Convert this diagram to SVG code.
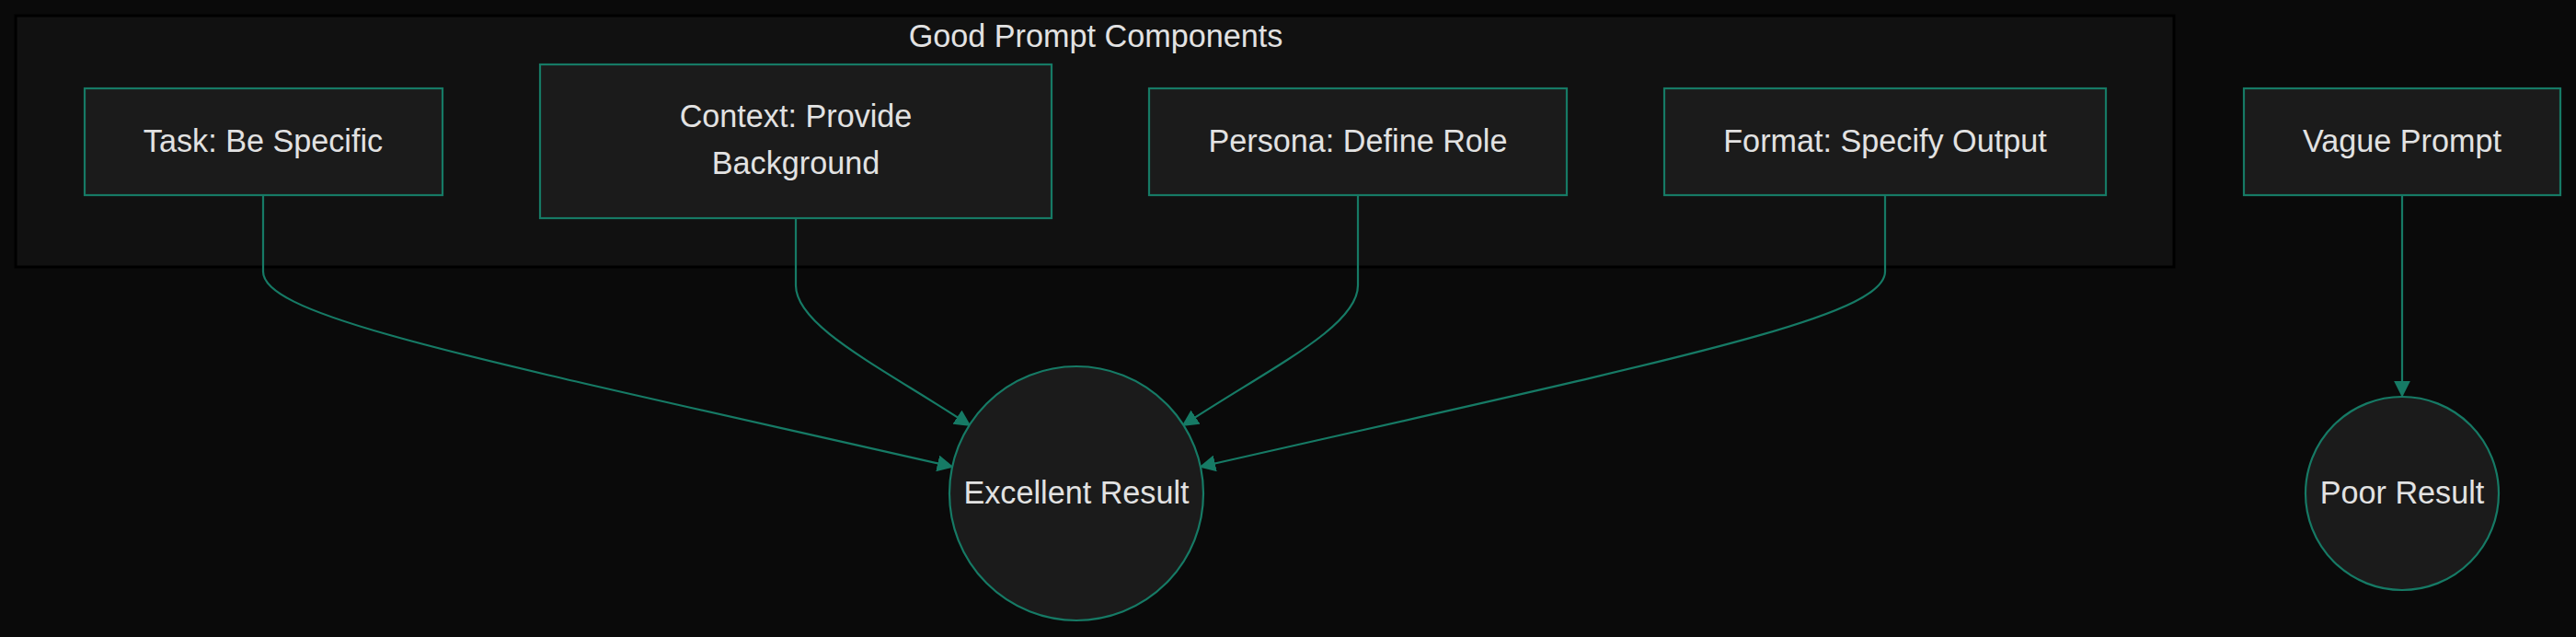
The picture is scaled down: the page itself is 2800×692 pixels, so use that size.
<svg xmlns="http://www.w3.org/2000/svg" width="2800" height="692" viewBox="0 0 2800 692">
<style>
.bg{fill:#0a0a0a}
.cluster{fill:#111111;stroke:#000000;stroke-width:3}
.node{fill:#1b1b1b;stroke:#167a65;stroke-width:2.2}
.lbl{font-family:"Liberation Sans",Arial,sans-serif;font-size:34.2px;fill:#e2e2e2;text-anchor:middle}
.edge{fill:none;stroke:#167a65;stroke-width:2.2}
</style>
<defs>
<marker id="arrow" viewBox="0 0 10 10" refX="9" refY="5" markerUnits="userSpaceOnUse" markerWidth="18" markerHeight="18" orient="auto">
<path d="M0,0 L10,5 L0,10 z" fill="#167a65"/>
</marker>
</defs>
<rect class="bg" x="0" y="0" width="2800" height="692"/>
<g id="cluster-good">
<rect class="cluster" x="17" y="17" width="2346" height="273"/>
<text class="lbl" x="1191" y="51">Good Prompt Components</text>
</g>
<g id="connectors">
<path class="edge" d="M286,212 L286,295 C286,345 520,390 1035,507" marker-end="url(#arrow)"/>
<path class="edge" d="M865,237 L865,310 C865,355 960,400 1054,462" marker-end="url(#arrow)"/>
<path class="edge" d="M1476,212 L1476,310 C1476,355 1380,400 1286,462" marker-end="url(#arrow)"/>
<path class="edge" d="M2049,212 L2049,295 C2049,345 1820,390 1305,507" marker-end="url(#arrow)"/>
<path class="edge" d="M2611,212 L2611,430" marker-end="url(#arrow)"/>
</g>
<g id="task">
<rect class="node" x="92" y="96" width="389" height="116"/>
<text class="lbl" x="286" y="165">Task: Be Specific</text>
</g>
<g id="context">
<rect class="node" x="587" y="70" width="556" height="167"/>
<text class="lbl" x="865" y="138">Context: Provide</text>
<text class="lbl" x="865" y="189">Background</text>
</g>
<g id="persona">
<rect class="node" x="1249" y="96" width="454" height="116"/>
<text class="lbl" x="1476" y="165">Persona: Define Role</text>
</g>
<g id="format">
<rect class="node" x="1809" y="96" width="480" height="116"/>
<text class="lbl" x="2049" y="165">Format: Specify Output</text>
</g>
<g id="vague">
<rect class="node" x="2439" y="96" width="344" height="116"/>
<text class="lbl" x="2611" y="165">Vague Prompt</text>
</g>
<g id="excellent">
<circle class="node" cx="1170" cy="536" r="138"/>
<text class="lbl" x="1170" y="547">Excellent Result</text>
</g>
<g id="poor">
<circle class="node" cx="2611" cy="536" r="105"/>
<text class="lbl" x="2611" y="547">Poor Result</text>
</g>
</svg>
